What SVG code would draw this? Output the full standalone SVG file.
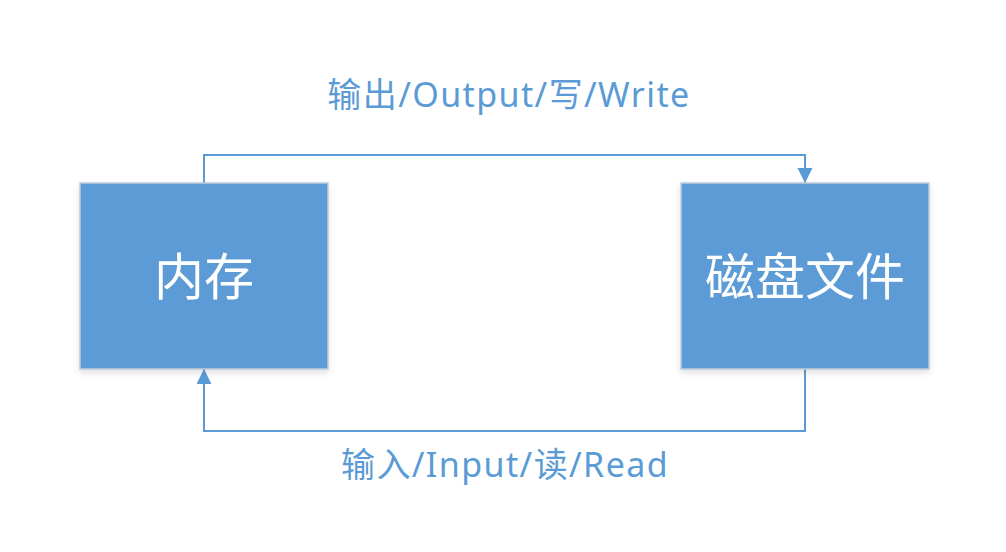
<svg xmlns="http://www.w3.org/2000/svg" width="1006" height="552" viewBox="0 0 1006 552">
<defs>
<marker id="arr" markerWidth="16" markerHeight="16" refX="15" refY="7.5" orient="auto" markerUnits="userSpaceOnUse">
<path d="M0,0 L15,7.5 L0,15 Z" fill="#5B9BD5"/>
</marker>
<filter id="sh" x="-10%" y="-10%" width="120%" height="125%">
<feDropShadow dx="0" dy="3" stdDeviation="3" flood-color="#000" flood-opacity="0.12"/>
</filter>
</defs>
<style>
.box{fill:#5B9BD5;stroke:#BFCBD8;stroke-width:1.5;filter:url(#sh)}
.nt{fill:#fff;font-family:"Noto Sans","Noto Sans CJK SC",sans-serif;font-size:50px;text-anchor:middle}
.lbl{fill:#5B9BD5;font-family:"Noto Sans","Noto Sans CJK SC",sans-serif;font-size:34px;letter-spacing:1.4px;text-anchor:middle}
.con{fill:none;stroke:#5B9BD5;stroke-width:2}
</style>
<rect width="1006" height="552" fill="#fff"/>
<g id="connectors">
<path class="con" d="M204,183 V155 H805 V183" marker-end="url(#arr)"/>
<path class="con" d="M805,369 V431 H204 V369" marker-end="url(#arr)"/>
</g>
<g id="memory">
<rect class="box" x="80" y="183" width="248" height="186"/>
<text class="nt" x="204" y="295">内存</text>
</g>
<g id="disk">
<rect class="box" x="681" y="183" width="248" height="186"/>
<text class="nt" x="805" y="295">磁盘文件</text>
</g>
<g id="labels">
<text class="lbl" x="509" y="107">输出/Output/写/Write</text>
<text class="lbl" x="505" y="477">输入/Input/读/Read</text>
</g>
</svg>
